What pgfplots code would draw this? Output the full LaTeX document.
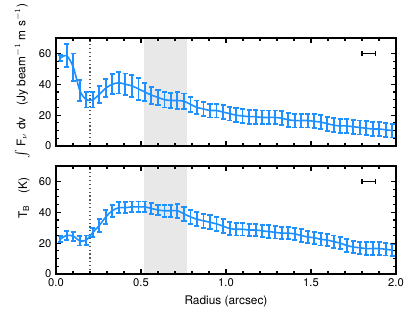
\documentclass[border=0pt]{standalone}
\usepackage{fontspec}
\setmainfont{TeX Gyre Heros}
\setsansfont{TeX Gyre Heros}
\usepackage{pgfplots}
\pgfplotsset{compat=1.18}
\usepackage{pgfplotstable}

\definecolor{profblue}{RGB}{30,144,255}

% radius, value, error
\pgfplotstableread{
r     f     e
0.025 57.0  2.0
0.063 58.5  7.5
0.102 51.0  9.0
0.140 36.0  7.0
0.178 30.0  5.0
0.217 30.0  5.0
0.255 33.5  5.5
0.293 37.5  6.0
0.331 40.0  6.5
0.370 41.0  7.0
0.408 40.0  7.0
0.446 39.0  7.0
0.485 37.0  7.0
0.523 35.0  6.0
0.561 33.0  5.5
0.600 31.5  5.0
0.638 30.0  5.0
0.676 29.5  5.0
0.714 29.5  5.5
0.753 29.0  5.0
0.791 27.0  5.0
0.829 25.0  4.5
0.868 24.0  4.5
0.906 23.0  4.5
0.944 23.0  4.5
0.983 22.0  4.5
1.021 21.0  4.5
1.059 20.0  4.5
1.097 19.5  4.5
1.136 19.0  4.5
1.174 19.0  4.5
1.212 18.5  4.5
1.251 18.5  4.5
1.289 18.5  4.5
1.327 18.0  4.5
1.366 17.0  4.5
1.404 16.5  4.5
1.442 16.5  4.5
1.480 16.5  4.5
1.519 16.0  4.5
1.557 15.5  4.5
1.595 14.5  4.5
1.634 13.5  4.5
1.672 13.0  4.5
1.710 13.0  4.5
1.749 12.5  4.5
1.787 12.0  4.5
1.825 11.5  4.5
1.863 11.0  4.5
1.902 11.0  4.5
1.940 10.5  4.5
1.978 10.0  4.5
}\fluxtab

\pgfplotstableread{
r     t     e
0.025 22.5  2.0
0.063 25.0  3.0
0.102 24.5  3.0
0.140 21.5  3.0
0.178 22.0  3.0
0.217 27.0  3.0
0.255 31.5  4.0
0.293 37.0  4.5
0.331 41.0  4.0
0.370 43.0  3.5
0.408 43.0  3.5
0.446 43.5  3.5
0.485 43.5  3.5
0.523 43.5  3.5
0.561 42.5  3.5
0.600 41.5  3.5
0.638 41.0  4.0
0.676 41.0  4.0
0.714 41.0  4.5
0.753 39.0  4.5
0.791 37.0  4.5
0.829 35.5  4.5
0.868 34.5  4.5
0.906 33.5  4.5
0.944 32.5  4.5
0.983 31.0  4.5
1.021 29.5  4.0
1.059 29.0  4.0
1.097 29.0  4.0
1.136 28.5  4.0
1.174 28.5  4.0
1.212 28.0  4.0
1.251 27.5  4.0
1.289 27.0  4.0
1.327 26.5  4.0
1.366 26.5  4.0
1.404 26.0  4.0
1.442 25.0  4.0
1.480 24.0  4.0
1.519 23.5  4.0
1.557 22.5  4.0
1.595 22.0  4.0
1.634 21.0  4.0
1.672 20.0  4.0
1.710 18.5  4.0
1.749 17.5  4.0
1.787 17.0  4.0
1.825 16.5  4.0
1.863 16.5  4.0
1.902 16.5  4.0
1.940 16.0  4.0
1.978 15.5  4.0
}\tbtab

\pgfplotsset{
  panel/.style={
    scale only axis, width=255pt, height=81pt,
    xmin=0, xmax=2, ymin=0, ymax=70,
    xtick={0,0.5,1,1.5,2}, minor x tick num=4,
    ytick={0,20,40,60}, minor y tick num=3,
    tick align=inside,
    major tick length=3.5pt, minor tick length=2pt,
    every tick/.style={black, line width=0.9pt},
    axis line style={line width=1.4pt},
    axis on top,
    /pgf/number format/assume math mode=true,
    tick label style={font=\fontsize{8.4}{10}\selectfont},
    label style={font=\fontsize{8.9}{11}\selectfont},
  },
  profline/.style={profblue, line width=1.2pt, smooth},
  proferr/.style={
    profblue, draw=none, line width=1.4pt,
    error bars/y dir=both, error bars/y explicit,
    error bars/error bar style={draw=profblue, line width=1.4pt, solid},
    error bars/error mark=|,
    error bars/error mark options={draw=profblue, mark size=1.9pt, line width=1.4pt},
  },
  beam/.style={
    black, line width=1pt,
    error bars/x dir=both, error bars/x explicit,
    error bars/error bar style={line width=1pt, black},
    error bars/error mark=|,
    error bars/error mark options={mark size=2pt, line width=1pt, black},
  },
}

\begin{document}
\begin{tikzpicture}
\begin{axis}[panel, xticklabels={},
  ylabel={$\int$ F$_\nu$ dv\quad (Jy beam$^{-1}$ m s$^{-1}$)},
  ylabel style={at={(ticklabel cs:0.6)}},
]
\fill[gray!18] (axis cs:0.52,0) rectangle (axis cs:0.77,70);
\draw[gray!70!black, dotted, line width=0.9pt] (axis cs:0.2,0) -- (axis cs:0.2,70);
\addplot[profline] table[x=r, y=f] {\fluxtab};
\addplot[proferr] table[x=r, y=f, y error=e] {\fluxtab};
\addplot[beam] coordinates {(1.84,60) +- (0.04,0)};
\node[font=\fontsize{6.8}{8}\selectfont, anchor=base] at (axis cs:0.2,72) {PDS 70b};
\node[font=\fontsize{6.8}{8}\selectfont, anchor=base] at (axis cs:0.645,72) {continuum};
\end{axis}

\begin{axis}[panel, at={(0pt,-15pt)}, anchor=north west,
  xticklabel style={/pgf/number format/.cd, fixed, fixed zerofill, precision=1},
  xlabel={Radius (arcsec)},
  ylabel={T\textsubscript{B}\quad (K)},
  ylabel style={at={(ticklabel cs:0.7)}},
]
\fill[gray!18] (axis cs:0.52,0) rectangle (axis cs:0.77,70);
\draw[gray!70!black, dotted, line width=0.9pt] (axis cs:0.2,0) -- (axis cs:0.2,70);
\addplot[profline] table[x=r, y=t] {\tbtab};
\addplot[proferr] table[x=r, y=t, y error=e] {\tbtab};
\addplot[beam] coordinates {(1.84,60) +- (0.04,0)};
\end{axis}

\pgfresetboundingbox
\path[use as bounding box] (-42pt,-135pt) rectangle (270pt,109.5pt);
\end{tikzpicture}
\end{document}
